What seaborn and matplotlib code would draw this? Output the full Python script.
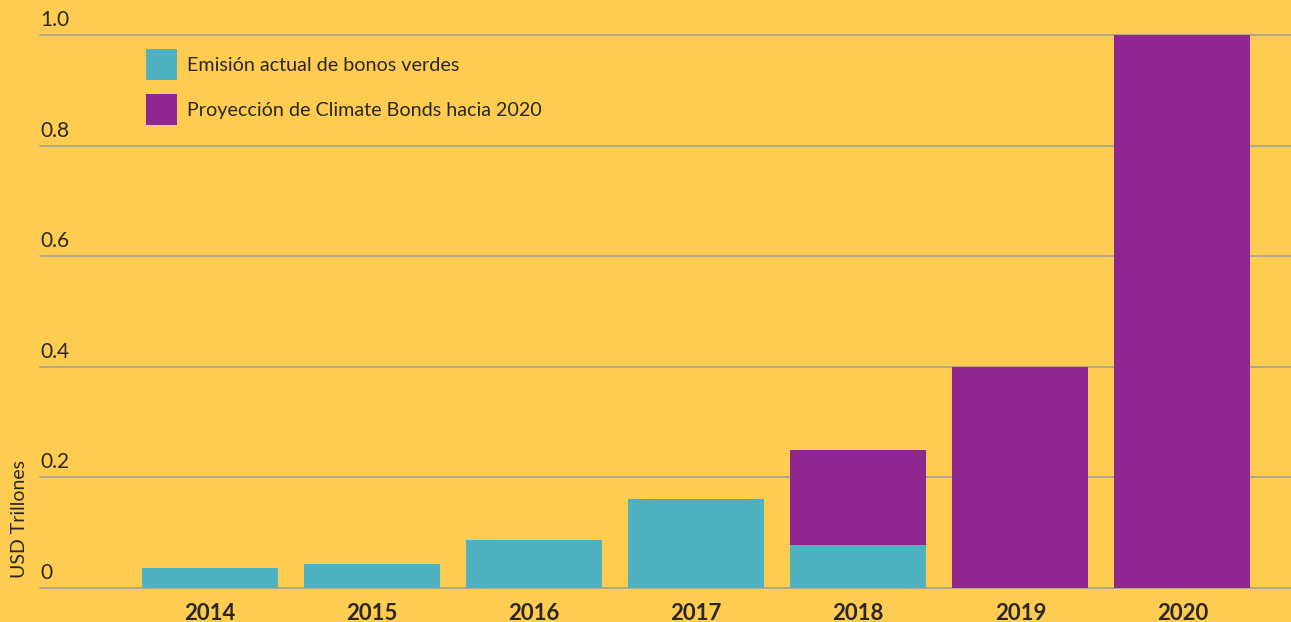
import matplotlib
matplotlib.use("Agg")
import matplotlib.pyplot as plt
import matplotlib.transforms as mtransforms
from matplotlib.patches import Patch
import seaborn as sns
import pandas as pd

# Green bond issuance (USD trillions)
years = ["2014", "2015", "2016", "2017", "2018", "2019", "2020"]
actual = [0.037, 0.044, 0.087, 0.161, 0.078, 0.0, 0.0]
projection = [0.0, 0.0, 0.0, 0.0, 0.25, 0.40, 1.0]
yticks = [0, 0.2, 0.4, 0.6, 0.8, 1.0]
ytick_labels = ["0", "0.2", "0.4", "0.6", "0.8", "1.0"]
legend_labels = ["Emisión actual de bonos verdes",
                 "Proyección de Climate Bonds hacia 2020"]
ylabel = "USD Trillones"

BG = "#FECC50"
TEAL = "#4DB1BF"
PURPLE = "#8E278F"
GRID = "#A9A296"
TEXT = "#2A2724"

sns.set_theme(style="white")
plt.rcParams["font.family"] = ["Lato", "DejaVu Sans"]

df = pd.DataFrame({"year": years, "actual": actual, "projection": projection})

fig = plt.figure(figsize=(12.91, 6.22), dpi=100, facecolor=BG)
ax = fig.add_axes([40 / 1291, 1 - 588 / 622, 1 - 40 / 1291, (588 - 35) / 622])
ax.set_facecolor(BG)

# projected totals behind, actual issuance on top
sns.barplot(data=df, x="year", y="projection", color=PURPLE, width=0.84,
            saturation=1, ax=ax, zorder=3)
sns.barplot(data=df, x="year", y="actual", color=TEAL, width=0.84,
            saturation=1, ax=ax, zorder=4)
for p in ax.patches:
    p.set_linewidth(0)

ax.set_xlim(-1.05, 6.67)
ax.set_ylim(0, 1.0)
for s in ax.spines.values():
    s.set_visible(False)

ax.set_yticks(yticks)
ax.set_yticklabels(ytick_labels)
for v in yticks:
    ax.axhline(v, color=GRID, lw=1.3, zorder=1, clip_on=False)
ax.tick_params(axis="y", length=0, pad=0, labelsize=15, labelcolor=TEXT)
offset = mtransforms.ScaledTranslation(0, 5 / 100, fig.dpi_scale_trans)
for lab in ax.get_yticklabels():
    lab.set_horizontalalignment("left")
    lab.set_verticalalignment("bottom")
    lab.set_transform(lab.get_transform() + offset)

ax.tick_params(axis="x", length=0, pad=11, labelsize=16, labelcolor=TEXT)
for lab in ax.get_xticklabels():
    lab.set_fontweight("bold")
ax.set_xlabel("")

ax.set_ylabel(ylabel, fontsize=14, color=TEXT)
ax.yaxis.label.set_horizontalalignment("left")
ax.yaxis.set_label_coords(-12 / 1251, 0.018)

handles = [Patch(facecolor=TEAL, edgecolor="none"),
           Patch(facecolor=PURPLE, edgecolor="none")]
leg = ax.legend(handles, legend_labels, loc="upper left",
                bbox_to_anchor=(146 / 1291, 1 - 49 / 622),
                bbox_transform=fig.transFigure, frameon=False,
                fontsize=14.2, handlelength=1.57, handleheight=2.04,
                labelspacing=0.71, handletextpad=0.5, borderpad=0,
                borderaxespad=0)
for t in leg.get_texts():
    t.set_color(TEXT)

fig.savefig("out.png", dpi=100, facecolor=BG)
